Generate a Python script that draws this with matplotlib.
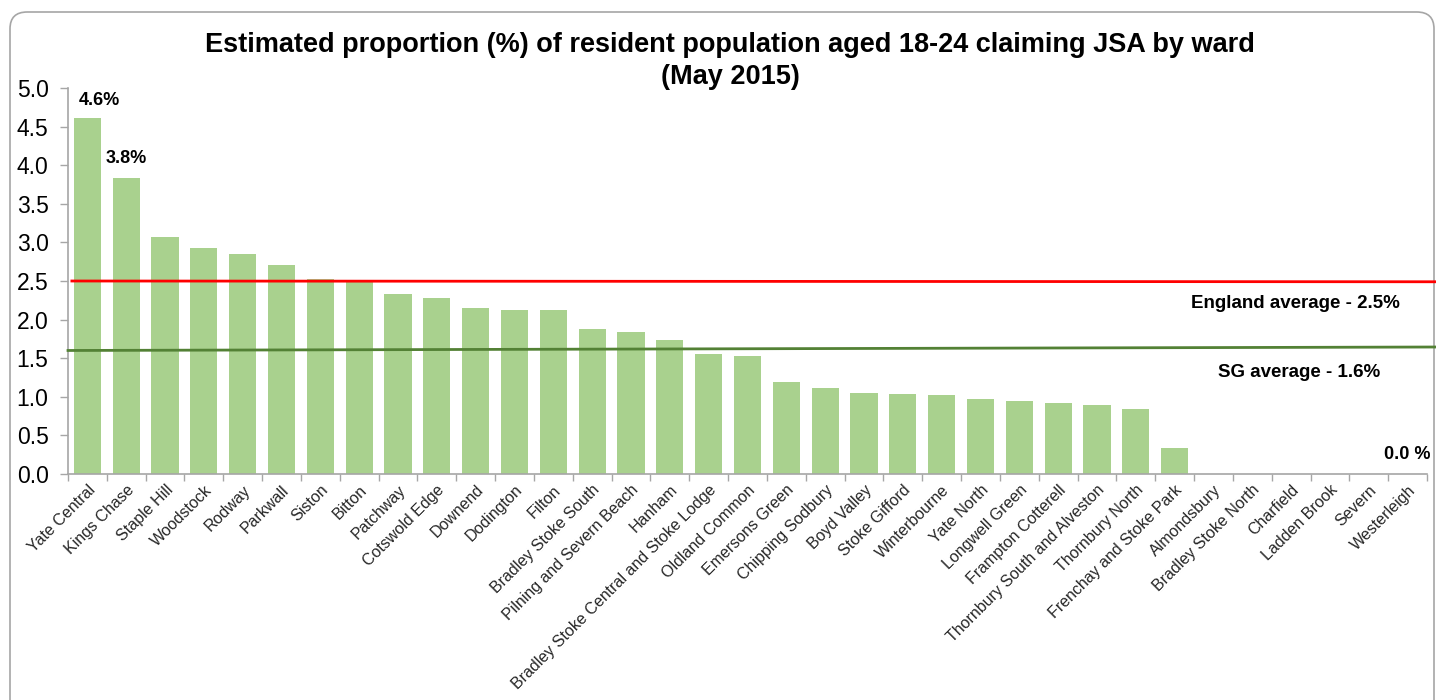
import matplotlib
matplotlib.use("Agg")
import matplotlib.pyplot as plt
from matplotlib.patches import FancyBboxPatch
import numpy as np

plt.rcParams['font.family'] = ['Liberation Sans', 'DejaVu Sans']

wards = ["Yate Central", "Kings Chase", "Staple Hill", "Woodstock", "Rodway", "Parkwall",
         "Siston", "Bitton", "Patchway", "Cotswold Edge", "Downend", "Dodington", "Filton",
         "Bradley Stoke South", "Pilning and Severn Beach", "Hanham",
         "Bradley Stoke Central and Stoke Lodge", "Oldland Common", "Emersons Green",
         "Chipping Sodbury", "Boyd Valley", "Stoke Gifford", "Winterbourne", "Yate North",
         "Longwell Green", "Frampton Cotterell", "Thornbury South and Alveston",
         "Thornbury North", "Frenchay and Stoke Park", "Almondsbury", "Bradley Stoke North",
         "Charfield", "Ladden Brook", "Severn", "Westerleigh"]
values = [4.61, 3.83, 3.07, 2.93, 2.85, 2.71, 2.53, 2.50, 2.33, 2.28, 2.15, 2.13, 2.13,
          1.88, 1.84, 1.73, 1.55, 1.53, 1.19, 1.11, 1.05, 1.04, 1.02, 0.97, 0.95, 0.92,
          0.89, 0.84, 0.34, 0.0, 0.0, 0.0, 0.0, 0.0, 0.0]
england_avg = [2.50, 2.49]   # start, end (line drawn slightly sloped as in source)
sg_avg = [1.60, 1.645]
yticks = [0.0, 0.5, 1.0, 1.5, 2.0, 2.5, 3.0, 3.5, 4.0, 4.5, 5.0]

fig = plt.figure(figsize=(14.36, 7.0), dpi=100)
# rounded outer frame
frame = FancyBboxPatch((10 / 1436, -0.05), (1424 / 1436), 1.0 - 12 / 700 + 0.05,
                       boxstyle="round,pad=0,rounding_size=0.012",
                       transform=fig.transFigure, facecolor='none',
                       edgecolor='#A6A6A6', linewidth=1.2, zorder=-10, mutation_aspect=2.0)
fig.patches.append(frame)

ax = fig.add_axes([68 / 1436, 1 - 474 / 700, (1427 - 68) / 1436, (474 - 88) / 700])
ax.patch.set_alpha(0)
x = np.arange(len(wards))
ax.bar(x, values, width=0.7, color='#A9D18E', zorder=2)

n = len(wards)
ax.plot([-0.4, n - 0.5 + 0.25], england_avg, color='#FF0000', lw=2, zorder=3, clip_on=False)
ax.plot([-0.5, n - 0.5 + 0.25], sg_avg, color='#538135', lw=2, zorder=3, clip_on=False)

ax.set_xlim(-0.5, n - 0.5)
ax.set_ylim(0, 5.0)
ax.set_yticks(yticks)
ax.set_yticklabels([f"{v:.1f}" for v in yticks], fontsize=16.5)
ax.tick_params(axis='y', length=6, width=1, color='#A6A6A6', pad=8)

ax.set_xticks(x)
ax.set_xticklabels(wards, rotation=45, ha='right', va='top', rotation_mode='anchor',
                   fontsize=11.5, color='#262626')
ax.tick_params(axis='x', length=0, pad=6)
ax.set_xticks(np.arange(-0.5, n, 1.0), minor=True)
ax.tick_params(axis='x', which='minor', length=5, width=1, color='#A6A6A6')

for s in ['top', 'right']:
    ax.spines[s].set_visible(False)
for s in ['left', 'bottom']:
    ax.spines[s].set_color('#A6A6A6')
    ax.spines[s].set_linewidth(1.2)

# value labels
ax.text(0.3, values[0] + 0.23, "4.6%", ha='center', va='center', fontsize=13, fontweight='bold')
ax.text(1.0, values[1] + 0.26, "3.8%", ha='center', va='center', fontsize=13, fontweight='bold')
ax.text(34.0, 0.25, "0.0 %", ha='center', va='center', fontsize=13, fontweight='bold')
ax.text(31.1, 2.21, "England average - 2.5%", ha='center', va='center', fontsize=13.5,
        fontweight='bold')
ax.text(31.2, 1.31, "SG average - 1.6%", ha='center', va='center', fontsize=13.5,
        fontweight='bold')

fig.text(730 / 1436, 1 - 61 / 700,
         "Estimated proportion (%) of resident population aged 18-24 claiming JSA by ward\n(May 2015)",
         ha='center', va='center', fontsize=19.5, fontweight='bold', linespacing=1.3)

fig.savefig("out.png", dpi=100)
